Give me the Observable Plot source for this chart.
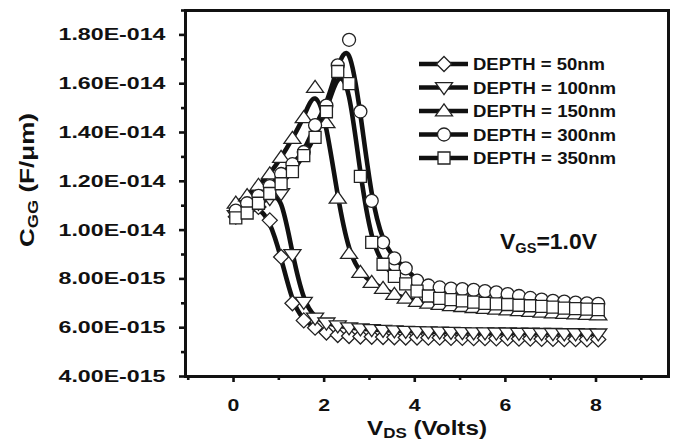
<!DOCTYPE html>
<html><head><meta charset="utf-8">
<script src="https://cdn.jsdelivr.net/npm/d3@7"></script>
<script src="https://cdn.jsdelivr.net/npm/@observablehq/plot@0.6"></script>
<style>body{margin:0;background:#fff;}</style>
</head><body><div id="chart"></div>
<script>
// V_DS (Volts) sample positions of the markers
const vds = [0.05,0.3,0.55,0.8,1.05,1.3,1.55,1.8,2.05,2.3,2.55,2.8,3.05,3.3,3.55,3.8,4.05,4.3,4.55,4.8,5.05,5.3,5.55,5.8,6.05,6.3,6.55,6.8,7.05,7.3,7.55,7.8,8.05];
// C_GG values in units of 1e-15 F/um
const depth50  = [10.55,10.8,10.95,10.4,8.9,7.0,6.3,6.0,5.8,5.7,5.66,5.64,5.63,5.62,5.61,5.6,5.6,5.59,5.59,5.58,5.58,5.57,5.57,5.56,5.56,5.55,5.55,5.54,5.54,5.53,5.53,5.52,5.52];
const depth100 = [10.6,10.85,11.1,11.3,11.5,9.0,7.05,6.4,6.2,6.08,6.0,5.96,5.93,5.9,5.88,5.86,5.85,5.84,5.83,5.82,5.81,5.8,5.8,5.79,5.79,5.78,5.78,5.77,5.77,5.76,5.76,5.75,5.75];
const depth150 = [11.1,11.4,11.83,12.3,12.97,13.75,14.6,15.84,14.4,11.3,9.04,8.26,7.85,7.6,7.36,7.2,7.07,7.0,6.95,6.9,6.86,6.82,6.78,6.75,6.72,6.69,6.66,6.63,6.6,6.58,6.56,6.54,6.52];
const depth300 = [10.8,11.1,11.4,11.8,12.3,12.7,13.2,14.3,15.1,16.75,17.8,14.86,11.2,9.5,8.84,8.43,7.93,7.73,7.65,7.6,7.58,7.55,7.5,7.45,7.38,7.3,7.22,7.15,7.1,7.07,7.03,7.0,6.98];
const depth350 = [10.5,10.7,11.1,11.5,11.9,12.4,13.05,13.8,14.85,16.5,16.0,12.2,9.5,8.6,8.1,7.8,7.5,7.3,7.2,7.15,7.1,7.05,7.0,6.98,6.95,6.92,6.9,6.87,6.84,6.8,6.78,6.76,6.74];
const seriesNames = ["DEPTH = 50nm","DEPTH = 100nm","DEPTH = 150nm","DEPTH = 300nm","DEPTH = 350nm"];
const xTicks = [0,2,4,6,8];
const xTickLabels = ["0","2","4","6","8"];
const xMinorTicks = [-1,1,3,5,7,9];
const yTicks = [4,6,8,10,12,14,16,18];
const yTickLabels = ["4.00E-015","6.00E-015","8.00E-015","1.00E-014","1.20E-014","1.40E-014","1.60E-014","1.80E-014"];
const yMinorTicks = [5,7,9,11,13,15,17,19];

const FONT = "'Liberation Sans', Arial, Helvetica, sans-serif";
const INK = "#111";

const allSeries = [depth50, depth100, depth150, depth300, depth350];
const rows = allSeries.flatMap((arr, s) => arr.map((v, i) => ({x: vds[i], y: v, series: seriesNames[s]})));

const symDiamond = {draw(ctx, size){ const r=Math.sqrt(size/Math.PI), a=1.25*r; ctx.moveTo(0,-a); ctx.lineTo(a,0); ctx.lineTo(0,a); ctx.lineTo(-a,0); ctx.closePath(); }};
const symDown = {draw(ctx, size){ const r=Math.sqrt(size/Math.PI), w=1.42*r, h=2*r; ctx.moveTo(-w,-h*0.4); ctx.lineTo(w,-h*0.4); ctx.lineTo(0,h*0.6); ctx.closePath(); }};
const symUp = {draw(ctx, size){ const r=Math.sqrt(size/Math.PI), w=1.42*r, h=2*r; ctx.moveTo(-w,h*0.4); ctx.lineTo(w,h*0.4); ctx.lineTo(0,-h*0.6); ctx.closePath(); }};
const symSquare = {draw(ctx, size){ const r=Math.sqrt(size/Math.PI); ctx.rect(-r,-r,2*r,2*r); }};
const symbols = [symDiamond, symDown, symUp, "circle", symSquare];
const radii = [6, 6, 6, 6.5, 6];

const chart = Plot.plot({
  width: 681, height: 448,
  marginLeft: 185, marginRight: 13, marginTop: 10, marginBottom: 72,
  x: {domain: [-1.06, 9.6]},
  y: {domain: [4, 19]},
  style: {fontFamily: FONT, fontWeight: "bold", fontSize: "17px", color: INK, background: "white", overflow: "visible"},
  marks: [
    Plot.line(rows, {x: "x", y: "y", z: "series", curve: "basis", stroke: INK, strokeWidth: 4.6}),
    ...seriesNames.map((name, s) => Plot.dot(rows.filter(d => d.series === name), {
      x: "x", y: "y", symbol: symbols[s], r: radii[s], fill: "white", stroke: "#222", strokeWidth: 1.3
    })),
    Plot.frame({stroke: INK, strokeWidth: 3}),
    Plot.axisX(xTicks, {tickSize: 6, tickPadding: 16, strokeWidth: 2.6, stroke: INK, tickFormat: d => xTickLabels[xTicks.indexOf(d)], label: null, fontSize: 17}),
    Plot.axisX(xMinorTicks, {tickSize: 4, strokeWidth: 2.6, stroke: INK, tickFormat: () => "", label: null}),
    Plot.axisY(yTicks, {tickSize: 6, tickPadding: 14, strokeWidth: 2.6, stroke: INK, tickFormat: d => yTickLabels[yTicks.indexOf(d)], label: null, fontSize: 17}),
    Plot.axisY(yMinorTicks, {tickSize: 4, strokeWidth: 2.6, stroke: INK, tickFormat: () => "", label: null})
  ]
});
document.getElementById("chart").append(chart);

const svg = d3.select(chart);
// widen tick labels to match the reference's wide lettering
svg.selectAll('g[aria-label="y-axis tick label"] text').each(function(){
  if (this.textContent) { this.setAttribute("textLength", 107); this.setAttribute("lengthAdjust", "spacingAndGlyphs"); }
});
svg.selectAll('g[aria-label="x-axis tick label"] text').each(function(){
  if (this.textContent) { const L = this.getComputedTextLength(); this.setAttribute("textLength", L*1.25); this.setAttribute("lengthAdjust", "spacingAndGlyphs"); }
});

const g = svg.append("g").attr("font-family", FONT).attr("font-weight", "bold").attr("fill", INK).attr("text-anchor", "start");

// x label
const xl = g.append("text").attr("x", 427).attr("y", 435).attr("text-anchor", "middle").attr("font-size", 20);
xl.append("tspan").text("V");
xl.append("tspan").attr("font-size", 14).attr("dy", 3).text("DS");
xl.append("tspan").attr("dy", -3).text(" (Volts)");
xl.attr("textLength", 120).attr("lengthAdjust", "spacingAndGlyphs");

// y label
const yl = g.append("text").attr("transform", "translate(34,180) rotate(-90)").attr("text-anchor", "middle").attr("font-size", 20);
yl.append("tspan").text("C");
yl.append("tspan").attr("font-size", 14).attr("dy", 4).text("GG");
yl.append("tspan").attr("dy", -4).text(" (F/μm)");
yl.attr("textLength", 134).attr("lengthAdjust", "spacingAndGlyphs");

// V_GS annotation
const vg = g.append("text").attr("x", 500).attr("y", 249).attr("text-anchor", "start").attr("font-size", 22);
vg.append("tspan").text("V");
vg.append("tspan").attr("font-size", 14).attr("dy", 4).text("GS");
vg.append("tspan").attr("dy", -4).text("=1.0V");
vg.attr("textLength", 97).attr("lengthAdjust", "spacingAndGlyphs");

// legend
seriesNames.forEach((name, s) => {
  const y = 64 + s * 23.5;
  g.append("line").attr("x1", 419).attr("x2", 468).attr("y1", y).attr("y2", y).attr("stroke", INK).attr("stroke-width", 4.5);
  const type = symbols[s] === "circle" ? d3.symbolCircle : symbols[s];
  g.append("path").attr("transform", `translate(444,${y})`)
    .attr("d", d3.symbol(type, Math.PI * radii[s] * radii[s])())
    .attr("fill", "white").attr("stroke", "#222").attr("stroke-width", 1.3);
  g.append("text").attr("x", 473).attr("y", y + 6.3).attr("text-anchor", "start").attr("font-size", 17)
    .attr("textLength", s === 0 ? 132 : 143).attr("lengthAdjust", "spacingAndGlyphs").text(name);
});
</script>
</body></html>
